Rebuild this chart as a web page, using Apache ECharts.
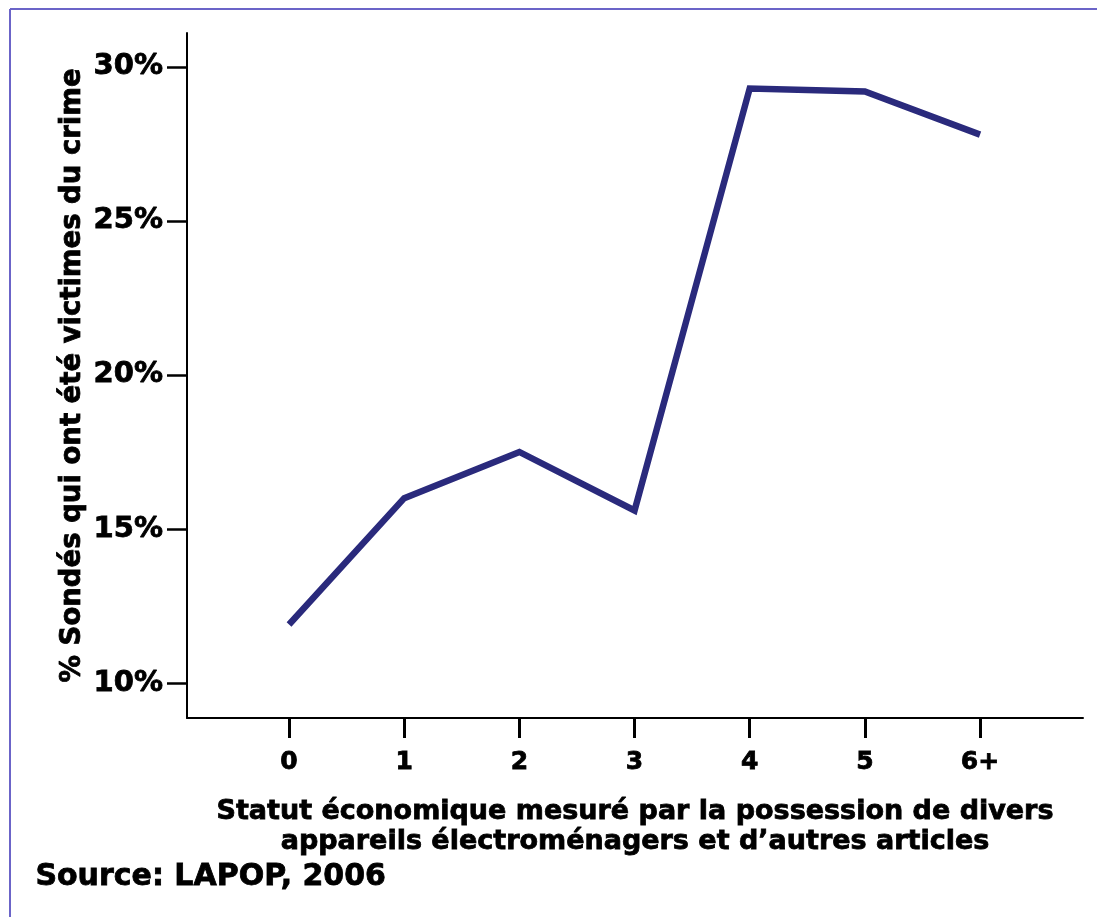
<!DOCTYPE html>
<html lang="fr">
<head>
  <meta charset="UTF-8">
  <title>Victimes du crime</title>
  <style>
    html, body { margin: 0; padding: 0; background: #fff; }
    #main { width: 1097px; height: 917px; }
  </style>
</head>
<body>
  <div id="main"></div>
  <script src="https://cdn.jsdelivr.net/npm/echarts@6/dist/echarts.min.js"></script>
  <script>
    // statut économique (nombre d'articles) et % de victimes
    const categories = ['0', '1', '2', '3', '4', '5', '6+'];
    const xPositions = [0, 1, 2, 3, 4, 5, 6];
    const victimes = [11.9, 16.0, 17.5, 15.6, 29.3, 29.2, 27.8];
    const yTicks = [10, 15, 20, 25, 30];

    const font = 'DejaVu Sans';
    // un léger contour pour imiter la police très grasse de l'original
    const heavy = { color: '#000', fontFamily: font, fontWeight: 'bold', textBorderColor: '#000', textBorderWidth: 0.8 };
    const chart = echarts.init(document.querySelector('#main'));

    const option = {
      backgroundColor: '#fff',
      animation: false,
      grid: { left: 187, right: 14, top: 33, bottom: 199 },
      xAxis: {
        type: 'value',
        min: -0.886,
        max: 6.894,
        splitLine: { show: false },
        axisLine: { onZero: false, lineStyle: { color: '#000', width: 2 } },
        axisTick: {
          customValues: xPositions,
          length: 20,
          lineStyle: { color: '#000', width: 3 }
        },
        axisLabel: Object.assign({
          customValues: xPositions,
          margin: 32,
          fontSize: 25,
          formatter: v => categories[Math.round(v)]
        }, heavy),
        name: 'Statut économique mesuré par la possession de divers\nappareils électroménagers et d’autres articles',
        nameLocation: 'middle',
        nameGap: 79,
        nameMoveOverlap: false,
        nameTextStyle: Object.assign({ fontSize: 27, lineHeight: 30 }, heavy)
      },
      yAxis: {
        type: 'value',
        min: 8.864,
        max: 31.1,
        splitLine: { show: false },
        axisLine: { show: true, onZero: false, lineStyle: { color: '#000', width: 2 } },
        axisTick: {
          show: true,
          customValues: yTicks,
          length: 20,
          lineStyle: { color: '#000', width: 2.5 }
        },
        axisLabel: Object.assign({
          customValues: yTicks,
          margin: 24,
          fontSize: 29,
          formatter: v => v + '%'
        }, heavy),
        name: '% Sondés qui ont été victimes du crime',
        nameLocation: 'middle',
        nameGap: 100,
        nameMoveOverlap: false,
        nameTextStyle: Object.assign({ fontSize: 27.5 }, heavy)
      },
      series: [{
        type: 'line',
        data: xPositions.map((x, i) => [x, victimes[i]]),
        showSymbol: false,
        symbol: 'none',
        lineStyle: { color: '#2a2a7c', width: 6.5, join: 'miter', cap: 'butt' }
      }],
      graphic: [
        {
          type: 'line',
          shape: { x1: 10, y1: 9, x2: 1097, y2: 9 },
          style: { stroke: '#6b64c8', lineWidth: 2 }
        },
        {
          type: 'line',
          shape: { x1: 10, y1: 9, x2: 10, y2: 917 },
          style: { stroke: '#6b64c8', lineWidth: 2 }
        },
        {
          type: 'text',
          left: 35,
          top: 862,
          style: {
            text: 'Source: LAPOP, 2006',
            fill: '#000',
            stroke: '#000',
            lineWidth: 0.8,
            font: 'bold 30px "DejaVu Sans"'
          }
        }
      ]
    };
    chart.setOption(option);
  </script>
</body>
</html>
